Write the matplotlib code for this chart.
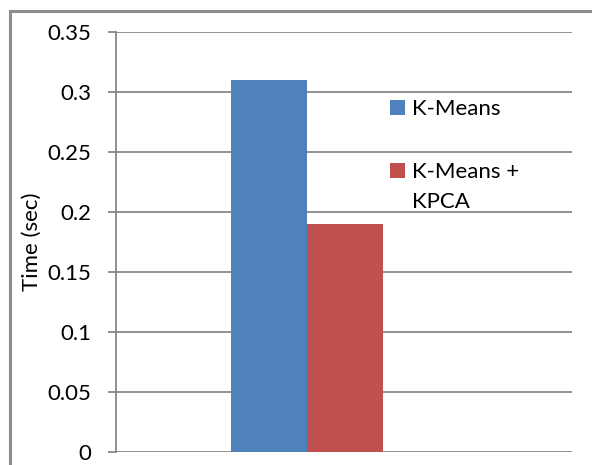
import matplotlib
matplotlib.use("Agg")
import matplotlib.pyplot as plt
from matplotlib.patches import Rectangle

series = ["K-Means", "K-Means +"]
series_extra_line = "KPCA"
times = [0.31, 0.19]
colors = ["#4F81BD", "#C0504D"]
yticks = [0, 0.05, 0.1, 0.15, 0.2, 0.25, 0.3, 0.35]

plt.rcParams['font.family'] = ['Lato', 'DejaVu Sans']
FS = 16

fig = plt.figure(figsize=(5.92, 4.65), dpi=100)
ax = fig.add_axes([116 / 592, 1 - 452 / 465, 456 / 592, 420 / 465])

# outer chart frame (cut off at right/bottom like the original)
fig.patches.append(Rectangle((9.5 / 592, -0.1), 1.2, 1 - 11.5 / 465 + 0.1,
                             transform=fig.transFigure, fill=False,
                             edgecolor='#8c8c8c', linewidth=2.2))

offsets = [-0.5, 0.5]
for off, t, c, lab in zip(offsets, times, colors, series):
    ax.bar(off, t, width=1.0, color=c, label=lab, zorder=3)

ax.set_xlim(-2.51, 3.49)
ax.set_ylim(0, 0.35)
ax.set_yticks(yticks)
ax.set_yticklabels([f"{v:g}" for v in yticks])
ax.grid(axis='y', color='#888888', linewidth=1.3, zorder=0)
ax.set_xticks([])
for s in ['top', 'right', 'bottom']:
    ax.spines[s].set_visible(False)
ax.spines['left'].set_color('#888888')
ax.spines['left'].set_linewidth(1.3)
ax.tick_params(axis='y', length=6, width=1.3, color='#888888', pad=12, labelsize=FS)
ax.set_ylabel("Time (sec)", fontsize=FS, labelpad=4)

leg = ax.legend(loc='upper left', bbox_to_anchor=((390 - 116) / 456, (452 - 99) / 420),
                frameon=False, fontsize=FS,
                handlelength=0.68, handleheight=0.68, handletextpad=0.3,
                labelspacing=1.95, borderaxespad=0, borderpad=0)

# second line of the second legend label, under its first line
fig.canvas.draw()
bb = leg.get_texts()[1].get_window_extent()
x0, y0 = fig.transFigure.inverted().transform((bb.x0, bb.y0))
fig.text(x0, y0 - 30 / 465, series_extra_line, fontsize=FS, ha='left', va='bottom')

fig.savefig("out.png", dpi=100)
